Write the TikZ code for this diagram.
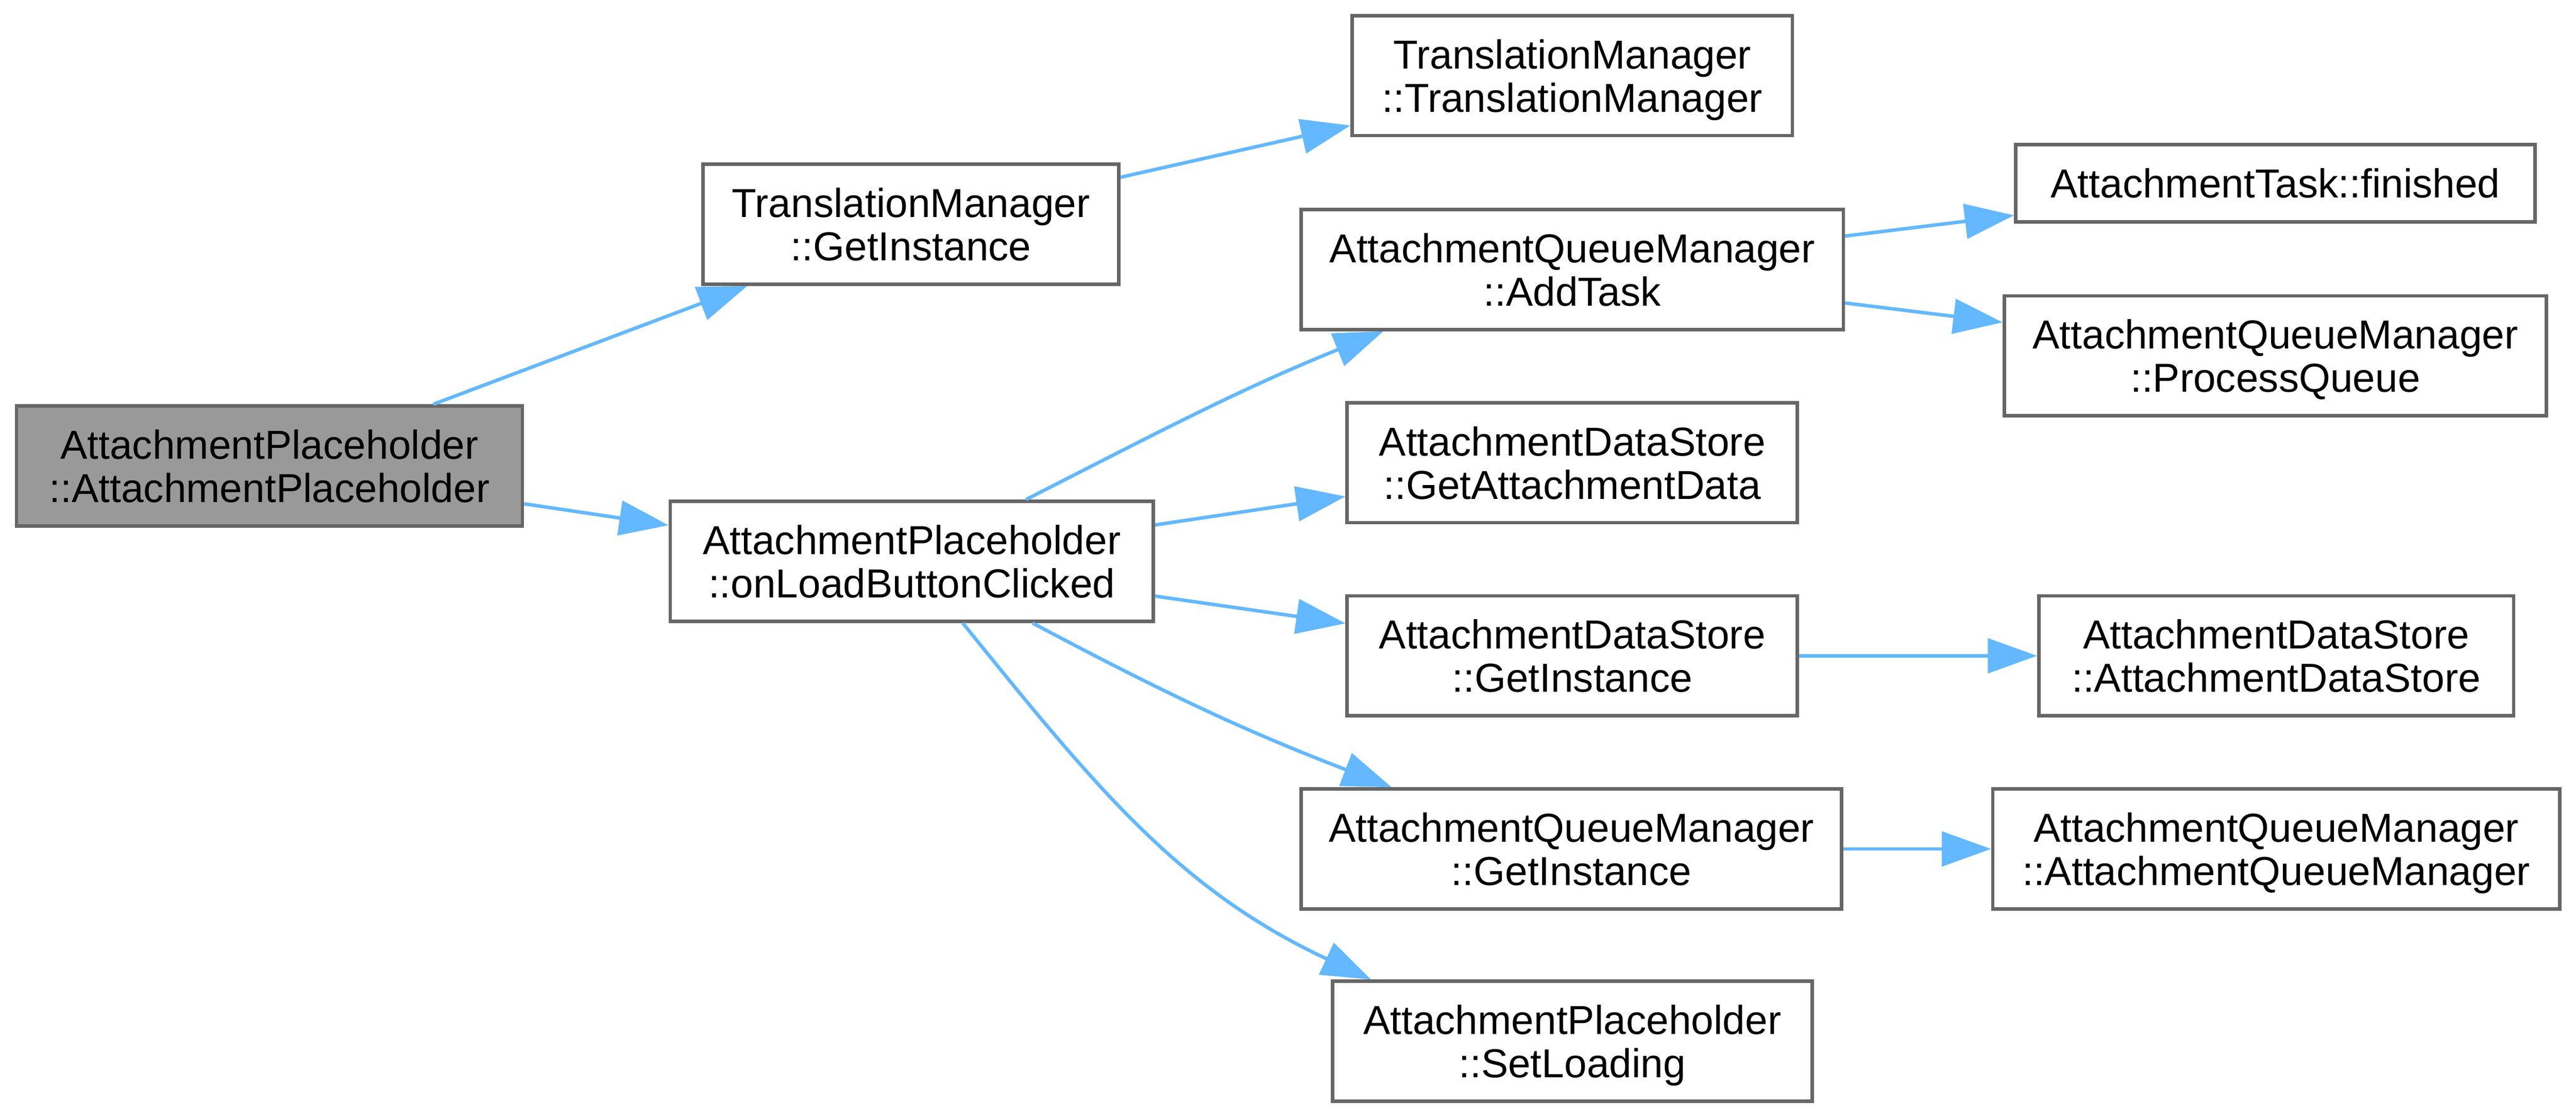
\documentclass[tikz,border=0pt]{standalone}
\usepackage{fontspec}
\setmainfont{Liberation Sans}
\usetikzlibrary{arrows.meta, positioning}
\definecolor{edgeblue}{HTML}{63B8FF}
\definecolor{boxgrey}{HTML}{666666}
\definecolor{rootfill}{HTML}{999999}

\begin{document}
\begin{tikzpicture}[
		fn/.style={draw=boxgrey, line width=1.2pt, fill=white, align=center, inner sep=0pt,
			minimum height=1.46cm, text depth=0pt, font=\fontsize{14}{15}\selectfont},
		call/.style={->, draw=edgeblue, line width=1.2pt},
		>={Triangle[length=0.6cm, width=0.42cm]}]
		\useasboundingbox (0,0) rectangle (31.36cm, 13.6cm);
		\draw (3.28cm, 7.93cm) node[fn, fill=rootfill, minimum width=6.16cm] (ap) {AttachmentPlaceholder\\::AttachmentPlaceholder}
		(11.09cm, 10.87cm) node[fn, minimum width=5.06cm] (tmgi) {TranslationManager\\::GetInstance}
		(11.10cm, 6.77cm) node[fn, minimum width=5.88cm] (olbc) {AttachmentPlaceholder\\::onLoadButtonClicked}
		(19.14cm, 12.68cm) node[fn, minimum width=5.36cm] (tmtm) {TranslationManager\\::TranslationManager}
		(19.14cm, 10.32cm) node[fn, minimum width=6.60cm] (addtask) {AttachmentQueueManager\\::AddTask}
		(19.14cm, 7.97cm) node[fn, minimum width=5.48cm] (getdata) {AttachmentDataStore\\::GetAttachmentData}
		(19.14cm, 5.62cm) node[fn, minimum width=5.48cm] (dsgi) {AttachmentDataStore\\::GetInstance}
		(19.13cm, 3.27cm) node[fn, minimum width=6.58cm] (qmgi) {AttachmentQueueManager\\::GetInstance}
		(19.14cm, 0.93cm) node[fn, minimum width=5.84cm] (setload) {AttachmentPlaceholder\\::SetLoading}
		(27.70cm, 11.37cm) node[fn, minimum width=6.32cm, minimum height=0.94cm] (finished) {AttachmentTask::finished}
		(27.70cm, 9.27cm) node[fn, minimum width=6.60cm] (procq) {AttachmentQueueManager\\::ProcessQueue}
		(27.71cm, 5.62cm) node[fn, minimum width=5.78cm] (dsctor) {AttachmentDataStore\\::AttachmentDataStore}
		(27.71cm, 3.27cm) node[fn, minimum width=6.90cm] (qmctor) {AttachmentQueueManager\\::AttachmentQueueManager};
		
		\draw[call] (ap) -- (tmgi);
		\draw[call] (ap) -- (olbc);
		\draw[call] (tmgi) -- (tmtm);
		\draw[call] ([xshift=1.39cm]olbc.north) to[out=27, in=202] ([xshift=-2.30cm]addtask.south);
		\draw[call] (olbc) -- (getdata);
		\draw[call] (olbc) -- (dsgi);
		\draw[call] ([xshift=1.47cm]olbc.south) to[out=-28, in=159] ([xshift=-2.19cm]qmgi.north);
		\draw[call] ([xshift=0.62cm]olbc.south) to[out=-51, in=155] ([xshift=-2.45cm]setload.north);
		\draw[call] (addtask) -- (finished);
		\draw[call] (addtask) -- (procq);
		\draw[call] (dsgi) -- (dsctor);
		\draw[call] (qmgi) -- (qmctor);
	\end{tikzpicture}
\end{document}
